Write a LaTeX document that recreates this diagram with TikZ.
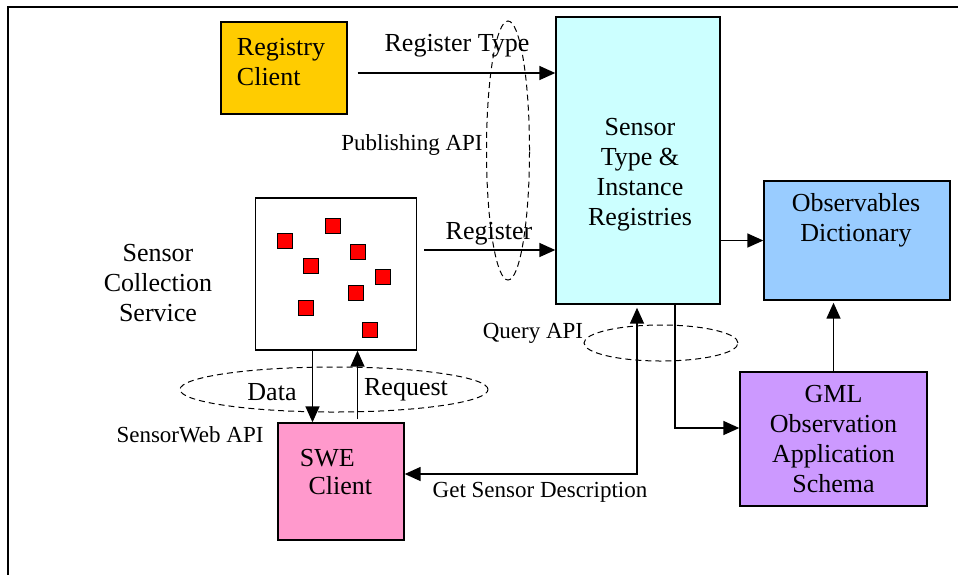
\documentclass[tikz,border=0pt]{standalone}
\usepackage{fontspec}
\setmainfont{Liberation Serif}
\usepackage{tikz}
\usetikzlibrary{positioning,arrows.meta,calc,shapes.geometric}
\definecolor{regY}{HTML}{FFCC00}
\definecolor{regC}{HTML}{CCFFFF}
\definecolor{obsB}{HTML}{99CCFF}
\definecolor{gmlP}{HTML}{CC99FF}
\definecolor{sweP}{HTML}{FF99CC}
\definecolor{sensR}{HTML}{FF0000}
\tikzset{
  arr/.style={-{Triangle[length=8pt,width=7pt]}, line width=0.8pt},
  arrr/.style={{Triangle[length=8pt,width=7pt]}-{Triangle[length=8pt,width=7pt]}, line width=0.8pt},
  box/.style={draw, line width=0.7pt, inner sep=0pt, align=center,
              font=\fontsize{13}{15}\selectfont},
  txt/.style={inner sep=0pt, align=center, font=\fontsize{13}{15}\selectfont},
  lbl/.style={inner sep=0pt, font=\fontsize{11.5}{13}\selectfont},
  api/.style={draw, ellipse, dash pattern=on 3pt off 2pt, line width=0.5pt, inner sep=0pt},
  sensor/.style={draw, fill=sensR, line width=0.5pt, minimum size=7.5pt, inner sep=0pt},
}
\begin{document}
\begin{tikzpicture}[x=0.5pt,y=-0.5pt]
  \useasboundingbox (0,0) rectangle (958,575);
  % page frame (only top and left edges show)
  \draw[line width=0.7pt] (958,7) -- (8,7) -- (8,575);

  % boxes
  \node[box, fill=regY, minimum width=63pt, minimum height=46pt] (rc) at (284,68) {};
  \node[txt, align=left] (rcT) at (281,62) {Registry\\Client};
  \node[box, fill=regC, minimum width=82pt, minimum height=143.5pt] (regs) at (638,160.5) {};
  \node[txt] (regsT) at (640,175) {Sensor\\Type \&\\Instance\\Registries};
  \node[box, fill=obsB, minimum width=93pt, minimum height=59.5pt] (obs) at (857,240.5) {};
  \node[txt] (obsT) at (856,220) {Observables\\Dictionary};
  \node[box, fill=gmlP, minimum width=93.5pt, minimum height=67pt] (gml) at (833.5,439) {GML\\Observation\\Application\\Schema};
  \node[box, fill=sweP, minimum width=63pt, minimum height=58.5pt] (swe) at (341,481.5) {};
  \node[txt, align=left] (sweT) at (336,472) {SWE\\[-1pt]\,\,Client};

  % sensor collection service
  \node[box, fill=white, minimum width=80.5pt, minimum height=76pt] (scs) at (336,274) {};
  \foreach \sx/\sy [count=\i] in {285/241, 333/226, 358/252, 311/266, 383/277, 356/293, 306/308, 370/330}
    \node[sensor] (s\i) at (\sx,\sy) {};
  \node[txt] (scsT) at (158,283) {Sensor\\Collection\\Service};

  % API ellipses
  \node[api, minimum width=21.5pt, minimum height=129.5pt] (pub) at (508,150.5) {};
  \node[api, minimum width=154pt, minimum height=22.5pt] (swapi) at (334,389.5) {};
  \node[api, minimum width=77pt, minimum height=18pt] (qry) at (661,343) {};

  % connectors
  \draw[arr] ([xshift=5pt]rc.east |- 0,73) -- (regs.west |- 0,73);
  \node[txt] (lRT) at (457,46) {Register Type};
  \draw[arr] ([xshift=3.5pt]scs.east |- 0,250) -- (regs.west |- 0,250);
  \node[txt] (lR) at (489,234) {Register};
  \node[lbl] (lPub) at (412,145) {Publishing API};
  \draw[arr] (regs.east |- obs.west) -- (obs.west);
  \draw[arr] (gml.north) -- ([yshift=-1pt]gml.north |- obs.south);
  \draw[arr] (regs.south -| 675,0) |- (gml.west |- 0,428);
  \draw[arrr] (swe.east |- 0,474) -| ([yshift=-1.5pt]regs.south -| 637,0);
  \node[lbl] (lGSD) at (540,492) {Get Sensor Description};
  \node[lbl] (lQ) at (533,333) {Query API};
  \draw[arr] (scs.south -| 312.5,0) -- (swe.north -| 312.5,0);
  \draw[arr] ([yshift=1.5pt]swe.north -| 357.5,0) -- (scs.south -| 357.5,0);
  \node[txt] (lD) at (272,392) {Data};
  \node[txt] (lReq) at (406,390) {Request};
  \node[lbl] (lSW) at (190,435) {SensorWeb API};
\end{tikzpicture}
\end{document}
